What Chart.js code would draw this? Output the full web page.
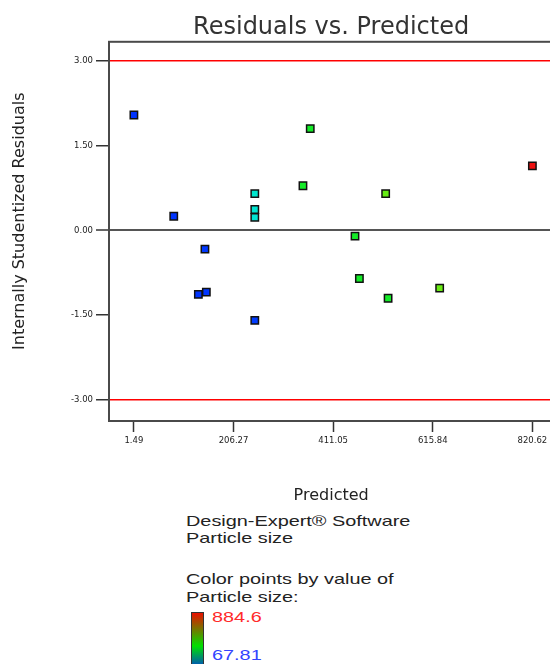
<!DOCTYPE html>
<html>
<head>
<meta charset="utf-8">
<title>Residuals vs. Predicted</title>
<script src="https://cdn.jsdelivr.net/npm/chart.js@4.4.1/dist/chart.umd.min.js"></script>
<style>
  html, body { margin: 0; padding: 0; background: #fff; }
  body { width: 550px; height: 664px; overflow: hidden; position: relative; }
  #chart { position: absolute; left: 0; top: 0; }
  .note {
    position: absolute; left: 186px;
    font-family: "Liberation Sans", Arial, sans-serif;
    font-size: 14.5px; line-height: 17px; color: #222;
    white-space: nowrap;
    transform: scaleX(1.37); transform-origin: 0 0;
  }
  .hi { color: #ff2a2a; left: 212px; }
  .lo { color: #3344ff; left: 212px; }
  #bar {
    position: absolute; left: 191px; top: 612px; width: 11px; height: 60px;
    border: 1.5px solid #333;
    background: linear-gradient(to bottom, #e81000 0%, #00e000 55%, #0020ff 100%);
  }
</style>
</head>
<body>
<canvas id="chart" width="560" height="510" style="width:560px;height:510px"></canvas>
<div class="note" style="top:513px">Design-Expert® Software</div>
<div class="note" style="top:530px">Particle size</div>
<div class="note" style="top:571px">Color points by value of</div>
<div class="note" style="top:589px">Particle size:</div>
<div id="bar"></div>
<div class="note hi" style="top:609px">884.6</div>
<div class="note lo" style="top:647px">67.81</div>
<script>
+ function() {
  "use strict";

  // values
  var predicted = [1.49, 83.4, 134.0, 147.5, 150.4, 250.0, 250.0, 250.0, 250.0, 349.0, 364.0, 456.0, 465.0, 519.0, 524.0, 630.0, 820.62];
  var residuals = [2.04, 0.25, -1.13, -0.33, -1.09, -1.59, 0.65, 0.37, 0.23, 0.79, 1.80, -0.10, -0.85, 0.65, -1.20, -1.02, 1.14];
  var particleSize = [67.81, 93, 89, 134, 106, 186, 276, 265, 259, 381, 437, 452, 431, 545, 476, 589, 884.6];

  var xTicks = [1.49, 206.27, 411.05, 615.84, 820.62];
  var yTicks = [-3.00, -1.50, 0.00, 1.50, 3.00];
  var limit = 3.00;

  var sizeMin = 67.81, sizeMax = 884.6;

  // colour ramp used for the points (fraction of size range -> rgb)
  var colorStops = [
    [0.00, [0, 51, 255]],
    [0.16, [0, 60, 255]],
    [0.22, [0, 225, 215]],
    [0.27, [0, 232, 200]],
    [0.35, [20, 235, 40]],
    [0.53, [20, 235, 40]],
    [0.57, [100, 235, 20]],
    [0.70, [110, 235, 20]],
    [1.00, [238, 17, 17]]
  ];

  var colorFor = function(v) {
    var t = (v - sizeMin) / (sizeMax - sizeMin);
    for (var i = 1; i < colorStops.length; i++) {
      var a = colorStops[i - 1], b = colorStops[i];
      if (t <= b[0]) {
        var k = (t - a[0]) / (b[0] - a[0]);
        var c = a[1].map(function(n, j) { return Math.round(n + (b[1][j] - n) * k); });
        return 'rgb(' + c.join(',') + ')';
      }
    }
    return 'rgb(' + colorStops[colorStops.length - 1][1].join(',') + ')';
  };

  var points = predicted.map(function(x, i) {
    return { x: x, y: residuals[i] };
  });

  // box round the plot area
  var frame = {
    id: 'frame',
    beforeDatasetsDraw: function(chart) {
      var a = chart.chartArea, ctx = chart.ctx;
      ctx.save();
      ctx.strokeStyle = '#4a4a4a';
      ctx.lineWidth = 2;
      ctx.strokeRect(a.left, a.top, a.right - a.left, a.bottom - a.top);
      ctx.restore();
    }
  };

  var font = "'DejaVu Sans', sans-serif";

  new Chart(document.getElementById('chart').getContext('2d'), {
    type: 'scatter',
    data: {
      datasets: [{
        data: points,
        pointStyle: 'rect',
        pointRadius: 5.2,
        pointBackgroundColor: particleSize.map(colorFor),
        pointBorderColor: '#111',
        pointBorderWidth: 1.5
      }]
    },
    options: {
      responsive: false,
      animation: false,
      devicePixelRatio: 1,
      events: [],
      layout: { padding: { right: 5 } },
      plugins: {
        legend: { display: false },
        tooltip: { enabled: false },
        title: {
          display: true,
          text: 'Residuals vs. Predicted',
          fullSize: false,
          color: '#333',
          font: { family: font, size: 24, weight: 'normal' },
          padding: { top: 13, bottom: 0 }
        }
      },
      scales: {
        x: {
          type: 'linear',
          min: -49.7,
          max: 863.6,
          afterFit: function(scale) { scale.height = 89; },
          afterBuildTicks: function(scale) {
            scale.ticks = xTicks.map(function(v) { return { value: v }; });
          },
          ticks: {
            autoSkip: false,
            maxRotation: 0,
            padding: 4,
            color: '#222',
            font: { family: font, size: 8.5 },
            callback: function(v) { return v.toFixed(2); }
          },
          grid: {
            drawOnChartArea: false,
            drawTicks: true,
            tickLength: 11,
            tickColor: '#333',
            tickWidth: 1.5
          },
          border: { display: false },
          title: {
            display: true,
            text: 'Predicted',
            color: '#222',
            font: { family: font, size: 16 },
            padding: { top: 0, bottom: 5 }
          }
        },
        y: {
          min: -3.37,
          max: 3.335,
          afterFit: function(scale) { scale.width = 109; },
          afterBuildTicks: function(scale) {
            scale.ticks = yTicks.map(function(v) { return { value: v }; });
          },
          ticks: {
            autoSkip: false,
            padding: 3,
            color: '#222',
            font: { family: font, size: 8.5 },
            callback: function(v) { return v.toFixed(2); }
          },
          grid: {
            drawOnChartArea: true,
            drawTicks: true,
            tickLength: 13,
            tickColor: '#333',
            tickWidth: 1.5,
            color: function(c) {
              var v = c.tick ? c.tick.value : null;
              if (v === 0) return '#555';
              if (v !== null && Math.abs(v) === limit) return '#ff0000';
              return 'rgba(0,0,0,0)';
            },
            lineWidth: function(c) {
              return c.tick && c.tick.value === 0 ? 2 : 1.5;
            }
          },
          border: { display: false },
          title: {
            display: true,
            text: '    Internally Studentized Residuals',
            color: '#222',
            font: { family: font, size: 16 },
            padding: { top: 10, bottom: 0 }
          }
        }
      }
    },
    plugins: [frame]
  });
}();
</script>
</body>
</html>
